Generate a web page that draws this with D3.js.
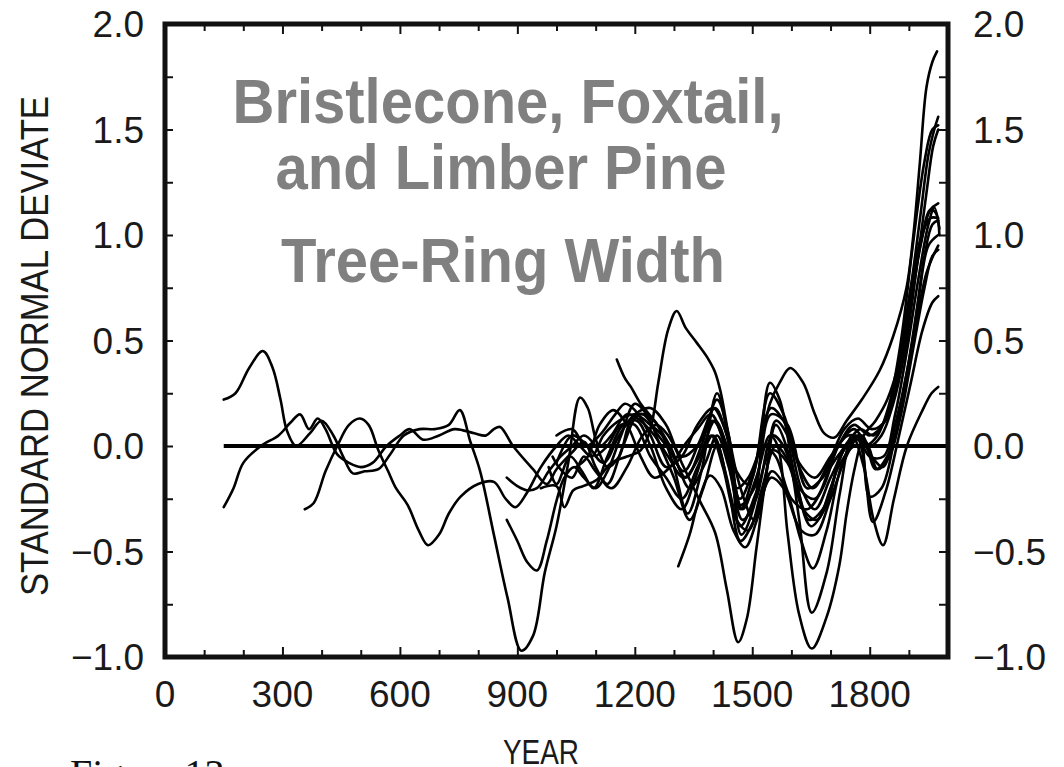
<!DOCTYPE html>
<html><head><meta charset="utf-8">
<script src="https://cdn.jsdelivr.net/npm/d3@7"></script>
<style>html,body{margin:0;padding:0;background:#fff;overflow:hidden}svg{display:block}</style>
</head><body>
<svg id="chart" width="1064" height="767"></svg>
<script>
// ---------- data (year, standard normal deviate) ----------
const titleLines = ["Bristlecone, Foxtail,", "and Limber Pine", "Tree-Ring Width"];
const xLabelValues = [0, 300, 600, 900, 1200, 1500, 1800];
const yLabelValues = [-1.0, -0.5, 0.0, 0.5, 1.0, 1.5, 2.0];
const zeroLine = [[150, 0], [2000, 0]];

const series01 = [[150,0.22],[180,0.25],[215,0.37],[250,0.45],[275,0.37],[295,0.22],[312,0.07],[335,0.0],[370,0.06],[400,0.12],[430,0.05],[455,-0.05],[480,-0.13],[510,-0.12],[545,-0.11],[575,-0.04],[610,0.05],[650,0.08],[690,0.08],[725,0.1],[753,0.17],[780,0.02],[805,-0.12],[840,-0.42],[875,-0.72],[910,-0.97],[940,-0.9],[970,-0.6],[1000,-0.38],[1030,-0.08],[1060,0.23],[1080,0.18],[1110,0.0],[1140,0.05],[1180,0.15],[1215,0.12],[1250,0.05],[1285,-0.05],[1325,-0.15],[1365,-0.05],[1405,0.12],[1435,0.0],[1468,-0.28],[1505,-0.2],[1548,0.15],[1590,0.1],[1640,-0.2],[1680,-0.15],[1720,0.0],[1760,0.08],[1800,0.0],[1830,0.05],[1860,0.2],[1890,0.45],[1920,0.85],[1945,1.2],[1962,1.42],[1975,1.5]];
const series02 = [[150,-0.29],[175,-0.2],[200,-0.08],[245,0.0],[290,0.05],[320,0.11],[345,0.15],[368,0.08],[390,0.13],[410,0.08],[440,-0.04],[470,-0.08],[500,-0.1],[530,-0.08],[566,0.0],[600,0.05],[625,0.08],[660,0.03],[700,0.05],[740,0.08],[790,0.06],[820,0.05],[840,0.08],[856,0.09],[889,0.0],[940,-0.11],[975,-0.18],[1000,-0.11],[1040,-0.03],[1070,0.02],[1100,-0.1],[1130,-0.18],[1170,0.0],[1210,0.15],[1250,0.12],[1285,0.0],[1325,-0.12],[1365,0.02],[1405,0.18],[1435,0.05],[1468,-0.25],[1505,-0.1],[1548,0.18],[1580,0.12],[1620,-0.08],[1660,-0.15],[1700,-0.05],[1745,0.05],[1790,0.02],[1820,-0.11],[1850,-0.05],[1880,0.15],[1910,0.45],[1940,0.75],[1960,0.9],[1975,0.93]];
const series03 = [[357,-0.3],[380,-0.27],[410,-0.12],[440,0.0],[470,0.1],[498,0.13],[520,0.1],[545,-0.02],[570,-0.12],[590,-0.2],[620,-0.28],[648,-0.4],[672,-0.47],[700,-0.42],[725,-0.32],[755,-0.24],[800,-0.18],[840,-0.17],[870,-0.25],[895,-0.29],[925,-0.22],[960,-0.1],[1000,0.0],[1030,0.05],[1060,0.0],[1090,-0.05],[1120,0.05],[1160,0.12],[1200,0.15],[1240,0.1],[1270,0.05],[1300,-0.1],[1335,-0.32],[1370,-0.12],[1410,0.25],[1440,0.02],[1472,-0.42],[1505,-0.28],[1545,0.3],[1570,0.22],[1610,-0.15],[1650,-0.38],[1690,-0.28],[1730,-0.02],[1765,0.05],[1800,-0.05],[1835,-0.05],[1865,0.15],[1895,0.45],[1925,0.8],[1950,1.05],[1965,1.13],[1978,1.03]];
const series04 = [[873,-0.15],[900,-0.19],[924,-0.21],[950,-0.2],[980,-0.12],[1010,-0.05],[1040,0.0],[1070,0.05],[1100,0.0],[1130,-0.1],[1160,-0.05],[1190,0.12],[1220,0.15],[1260,0.05],[1300,-0.05],[1340,-0.2],[1380,-0.08],[1410,0.05],[1440,-0.1],[1475,-0.35],[1510,-0.25],[1552,0.05],[1580,0.0],[1620,-0.2],[1660,-0.25],[1700,-0.1],[1740,0.0],[1780,0.05],[1815,-0.11],[1850,-0.03],[1880,0.18],[1910,0.5],[1940,0.9],[1960,1.05],[1975,1.07]];
const series05 = [[873,-0.35],[900,-0.45],[925,-0.55],[950,-0.59],[975,-0.45],[1000,-0.26],[1020,-0.15],[1045,-0.1],[1070,-0.15],[1100,-0.2],[1130,-0.12],[1165,0.05],[1200,0.2],[1230,0.15],[1265,0.0],[1300,-0.15],[1340,-0.35],[1375,-0.2],[1410,0.0],[1440,-0.2],[1470,-0.38],[1510,-0.22],[1550,-0.02],[1590,-0.08],[1630,-0.3],[1665,-0.35],[1700,-0.2],[1740,0.0],[1770,0.03],[1808,-0.36],[1840,-0.22],[1875,0.05],[1905,0.3],[1935,0.55],[1960,0.68],[1975,0.71]];
const series06 = [[960,-0.2],[1000,-0.19],[1020,-0.29],[1043,-0.21],[1068,-0.19],[1103,-0.16],[1140,-0.08],[1180,-0.05],[1215,-0.02],[1240,0.08],[1260,0.3],[1285,0.55],[1307,0.64],[1330,0.56],[1358,0.49],[1385,0.42],[1405,0.35],[1420,0.25],[1440,0.05],[1470,-0.2],[1505,-0.35],[1530,-0.2],[1560,0.12],[1590,0.05],[1625,-0.2],[1660,-0.3],[1700,-0.15],[1740,0.0],[1775,0.08],[1810,0.05],[1845,0.15],[1875,0.4],[1905,0.75],[1930,0.98],[1955,1.08],[1975,1.08]];
const series07 = [[1311,-0.57],[1340,-0.42],[1366,-0.24],[1392,-0.14],[1420,-0.2],[1452,-0.4],[1482,-0.48],[1512,-0.35],[1550,-0.12],[1585,-0.2],[1625,-0.45],[1655,-0.58],[1690,-0.4],[1730,-0.08],[1770,0.05],[1805,-0.05],[1834,-0.1],[1865,0.1],[1895,0.35],[1925,0.7],[1950,0.95],[1975,1.0]];
const series08 = [[990,-0.05],[1010,-0.11],[1040,-0.15],[1070,-0.05],[1100,-0.12],[1140,-0.2],[1180,-0.1],[1220,0.05],[1255,0.1],[1285,0.05],[1325,-0.1],[1366,-0.26],[1405,-0.41],[1435,-0.68],[1464,-0.93],[1486,-0.82],[1511,-0.48],[1535,-0.15],[1560,0.1],[1590,-0.02],[1620,-0.35],[1652,-0.79],[1690,-0.6],[1724,-0.22],[1755,0.05],[1785,-0.1],[1810,-0.35],[1834,-0.47],[1862,-0.25],[1895,0.0],[1935,0.17],[1958,0.25],[1975,0.28]];
const series09 = [[1000,-0.08],[1040,0.05],[1080,0.0],[1120,-0.08],[1160,0.05],[1200,0.15],[1240,0.18],[1280,0.1],[1320,-0.05],[1360,0.0],[1400,0.12],[1440,-0.05],[1475,-0.3],[1510,-0.15],[1545,0.05],[1565,0.0],[1590,-0.41],[1620,-0.8],[1652,-0.96],[1690,-0.81],[1722,-0.57],[1741,-0.32],[1760,-0.12],[1785,0.05],[1815,0.12],[1845,0.22],[1875,0.4],[1905,0.75],[1930,1.1],[1950,1.38],[1965,1.5],[1975,1.56]];
const series10 = [[1000,0.05],[1040,0.08],[1075,0.0],[1110,0.05],[1150,0.15],[1175,0.2],[1200,0.17],[1240,0.05],[1280,-0.1],[1320,-0.05],[1360,0.1],[1400,0.18],[1430,0.08],[1460,-0.12],[1490,-0.18],[1520,0.0],[1545,0.2],[1570,0.3],[1597,0.37],[1630,0.3],[1660,0.15],[1684,0.06],[1710,0.04],[1741,0.12],[1780,0.22],[1826,0.36],[1860,0.52],[1894,0.75],[1911,0.99],[1928,1.34],[1945,1.7],[1960,1.82],[1972,1.87]];
const series11 = [[1154,0.41],[1175,0.32],[1190,0.28],[1215,0.2],[1250,0.12],[1290,0.0],[1330,-0.15],[1370,0.0],[1410,0.22],[1440,0.05],[1470,-0.3],[1505,-0.12],[1545,0.25],[1580,0.15],[1620,-0.1],[1655,-0.2],[1695,-0.08],[1735,0.08],[1770,0.13],[1805,0.08],[1840,0.12],[1870,0.3],[1900,0.6],[1930,0.95],[1955,1.12],[1970,1.1],[1978,1.0]];
const series12 = [[1100,-0.05],[1130,0.0],[1165,0.1],[1200,0.1],[1240,-0.05],[1280,-0.15],[1320,-0.25],[1360,-0.1],[1400,0.05],[1435,-0.15],[1470,-0.45],[1505,-0.35],[1548,-0.15],[1580,-0.2],[1625,-0.4],[1660,-0.42],[1700,-0.25],[1740,-0.05],[1775,0.05],[1800,-0.24],[1830,-0.2],[1860,0.0],[1890,0.3],[1920,0.6],[1945,0.82],[1962,0.9],[1975,0.95]];
const series13 = [[1050,-0.1],[1080,-0.05],[1110,0.1],[1145,0.17],[1180,0.1],[1215,-0.05],[1250,-0.15],[1290,-0.1],[1325,0.0],[1360,0.08],[1395,0.15],[1430,0.0],[1460,-0.2],[1490,-0.15],[1530,0.0],[1560,-0.05],[1600,-0.25],[1640,-0.3],[1680,-0.2],[1720,0.0],[1760,0.1],[1800,0.05],[1840,0.12],[1875,0.35],[1905,0.7],[1935,1.0],[1955,1.12],[1975,1.15]];
const series14 = [[980,-0.1],[1000,-0.18],[1035,-0.05],[1065,-0.12],[1095,-0.2],[1130,-0.05],[1170,0.1],[1205,0.12],[1240,0.0],[1280,-0.2],[1320,-0.3],[1355,-0.15],[1395,0.05],[1425,-0.1],[1460,-0.35],[1490,-0.4],[1525,-0.2],[1560,0.0],[1600,-0.1],[1645,-0.35],[1680,-0.3],[1720,-0.1],[1760,0.0],[1790,0.0],[1820,0.05],[1850,0.2],[1880,0.5],[1910,0.95],[1940,1.35],[1960,1.5],[1975,1.52]];

const allSeries = [series01, series02, series03, series04, series05, series06, series07,
                   series08, series09, series10, series11, series12, series13, series14];

// ---------- layout ----------
const svg = d3.select("#chart");
const W = 1064, H = 767;
const plot = {left: 165, right: 948, top: 24, bottom: 657};
const x = d3.scaleLinear().domain([0, 2000]).range([plot.left, plot.right]);
const y = d3.scaleLinear().domain([-1, 2]).range([plot.bottom, plot.top]);

svg.append("rect").attr("width", W).attr("height", H).attr("fill", "#fff");

// ticks (inward on all four sides)
const minorX = d3.range(100, 2000, 100).filter(d => d % 300 !== 0);
const majorX = d3.range(300, 2000, 300);
const yTicks = d3.range(-0.75, 2.0, 0.25);

function tickStyle(g) {
  g.select(".domain").remove();
  g.selectAll(".tick line").attr("stroke", "#111").attr("stroke-width", 2);
  g.selectAll(".tick text").remove();
}
svg.append("g").attr("transform", `translate(0,${plot.bottom})`)
  .call(d3.axisBottom(x).tickValues(minorX).tickSize(-7).tickFormat("")).call(tickStyle);
svg.append("g").attr("transform", `translate(0,${plot.bottom})`)
  .call(d3.axisBottom(x).tickValues(majorX).tickSize(-10).tickFormat("")).call(tickStyle);
svg.append("g").attr("transform", `translate(0,${plot.top})`)
  .call(d3.axisTop(x).tickValues(minorX).tickSize(-7).tickFormat("")).call(tickStyle);
svg.append("g").attr("transform", `translate(0,${plot.top})`)
  .call(d3.axisTop(x).tickValues(majorX).tickSize(-10).tickFormat("")).call(tickStyle);
svg.append("g").attr("transform", `translate(${plot.left},0)`)
  .call(d3.axisLeft(y).tickValues(yTicks).tickSize(-8).tickFormat("")).call(tickStyle);
svg.append("g").attr("transform", `translate(${plot.right},0)`)
  .call(d3.axisRight(y).tickValues(yTicks).tickSize(-9).tickFormat("")).call(tickStyle);

// title
const titleG = svg.append("g").attr("fill", "#808080")
  .attr("font-family", "'Liberation Sans', Arial, Helvetica, sans-serif")
  .attr("font-weight", "bold").attr("font-size", 58);
const titlePos = [[508, 123], [501, 189], [503, 282]];
titleLines.forEach((t, i) => {
  titleG.append("text")
    .attr("transform", `translate(${titlePos[i][0]},${titlePos[i][1]}) scale(1,1.07)`)
    .attr("text-anchor", "middle").text(t);
});

// series lines
const line = d3.line()
  .x(d => x(d[0])).y(d => y(d[1]))
  .curve(d3.curveCatmullRom.alpha(0.5));
svg.append("g").attr("fill", "none").attr("stroke", "#000")
  .attr("stroke-width", 2.6).attr("stroke-linejoin", "round").attr("stroke-linecap", "round")
  .selectAll("path").data(allSeries).join("path").attr("d", line);

// zero line
svg.append("path").datum(zeroLine)
  .attr("d", d3.line().x(d => x(d[0])).y(d => y(d[1])))
  .attr("stroke", "#000").attr("stroke-width", 3.8).attr("fill", "none");

// frame
svg.append("rect")
  .attr("x", plot.left).attr("y", plot.top)
  .attr("width", plot.right - plot.left).attr("height", plot.bottom - plot.top)
  .attr("fill", "none").attr("stroke", "#111").attr("stroke-width", 5);

// tick labels
const fmt = d3.format(".1f");
const lab = svg.append("g").attr("fill", "#1a1a1a")
  .attr("font-family", "'Liberation Sans', Arial, Helvetica, sans-serif")
  .attr("font-size", 37);
lab.selectAll("text.xl").data(xLabelValues).join("text").attr("class", "xl")
  .attr("x", d => x(d)).attr("y", 707).attr("text-anchor", "middle").text(d => d);
lab.selectAll("text.yl").data(yLabelValues).join("text").attr("class", "yl")
  .attr("x", 144).attr("y", d => y(d) + 13).attr("text-anchor", "end").text(d => fmt(d));
lab.selectAll("text.yr").data(yLabelValues).join("text").attr("class", "yr")
  .attr("x", 973).attr("y", d => y(d) + 13).attr("text-anchor", "start").text(d => fmt(d));

// axis titles
svg.append("text")
  .attr("x", 541).attr("y", 764).attr("text-anchor", "middle")
  .attr("font-family", "'Liberation Sans', Arial, sans-serif").attr("font-size", 35)
  .attr("textLength", 76).attr("lengthAdjust", "spacingAndGlyphs")
  .attr("fill", "#1a1a1a").text("YEAR");
svg.append("text")
  .attr("transform", `translate(48,346) rotate(-90)`)
  .attr("text-anchor", "middle")
  .attr("font-family", "'Liberation Sans', Arial, sans-serif").attr("font-size", 38)
  .attr("textLength", 500).attr("lengthAdjust", "spacingAndGlyphs")
  .attr("fill", "#1a1a1a").text("STANDARD NORMAL DEVIATE");

// cut-off caption fragment at the bottom (as in the reference)
svg.append("text")
  .attr("x", 70).attr("y", 787)
  .attr("font-family", "'Liberation Serif', 'Times New Roman', serif").attr("font-size", 40)
  .attr("fill", "#111").text("Figure 13");
</script>
</body></html>
